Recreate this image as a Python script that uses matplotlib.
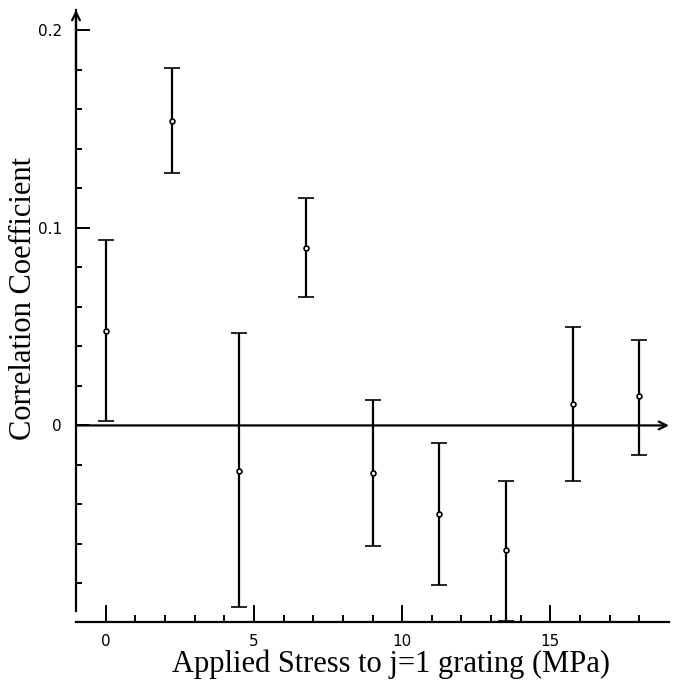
import numpy as np
import matplotlib
matplotlib.use("Agg")
import matplotlib.pyplot as plt
from matplotlib.ticker import FixedLocator

# datos
stress = [0.0, 2.25, 4.5, 6.75, 9.0, 11.25, 13.5, 15.75, 18.0]
corr = [0.048, 0.154, -0.023, 0.090, -0.024, -0.045, -0.063, 0.011, 0.015]
err_hi = [0.094, 0.181, 0.047, 0.115, 0.013, -0.009, -0.028, 0.050, 0.043]
err_lo = [0.002, 0.128, -0.092, 0.065, -0.061, -0.081, -0.099, -0.028, -0.015]

xlabel = "Applied Stress to j=1 grating (MPa)"
ylabel = "Correlation Coefficient"

corr = np.array(corr)
yerr = [corr - np.array(err_lo), np.array(err_hi) - corr]

fig = plt.figure(figsize=(6.79, 6.80), dpi=100)
# eje izquierdo en x=76 px, derecho en 669 px, abajo en 622 px, arriba 10 px
ax = fig.add_axes([76 / 679, 58 / 680, 593 / 679, 612 / 680])

ax.errorbar(stress, corr, yerr=yerr, fmt="o", color="black", ms=3.5,
            mfc="white", mec="black", mew=1.2, ecolor="black",
            elinewidth=1.6, capsize=6, capthick=1.6)

ax.set_xlim(-1.0, 19.0)
ax.set_ylim(-0.0995, 0.2103)

for s in ["top", "right"]:
    ax.spines[s].set_visible(False)
ax.spines["left"].set_bounds(-0.094, 0.2103)
ax.spines["left"].set_linewidth(1.6)
ax.spines["bottom"].set_linewidth(1.6)

# eje x=0 con flecha y flecha arriba del eje y
ax.annotate("", xy=(19.0, 0), xytext=(-1.0, 0),
            arrowprops=dict(arrowstyle="->", lw=1.6, color="black",
                            shrinkA=0, shrinkB=0, mutation_scale=14),
            annotation_clip=False)
ax.annotate("", xy=(0, 1.0), xytext=(0, 0.9), xycoords="axes fraction",
            arrowprops=dict(arrowstyle="->", lw=1.6, color="black",
                            shrinkA=0, shrinkB=0, mutation_scale=14),
            annotation_clip=False)

ax.xaxis.set_major_locator(FixedLocator([0, 5, 10, 15]))
ax.xaxis.set_minor_locator(FixedLocator(np.arange(0, 19, 1)))
ax.yaxis.set_major_locator(FixedLocator([0, 0.1, 0.2]))
ax.yaxis.set_minor_locator(FixedLocator(np.arange(-0.08, 0.2, 0.02)))
ax.set_yticklabels(["0", "0.1", "0.2"])
ax.set_xticklabels(["0", "5", "10", "15"])

ax.tick_params(axis="both", which="both", direction="in", width=1.4,
               labelsize=11)
ax.tick_params(axis="x", which="major", length=12, pad=9)
ax.tick_params(axis="x", which="minor", length=5)
ax.tick_params(axis="y", which="major", length=10, pad=10)
ax.tick_params(axis="y", which="minor", length=4)

ax.set_xlabel(xlabel, family="Liberation Serif", fontsize=22)
ax.set_ylabel(ylabel, family="Liberation Serif", fontsize=22)
ax.xaxis.set_label_coords(0.531, -0.045)
ax.yaxis.set_label_coords(-0.064, 0.528)

fig.savefig("out.png", dpi=100)
